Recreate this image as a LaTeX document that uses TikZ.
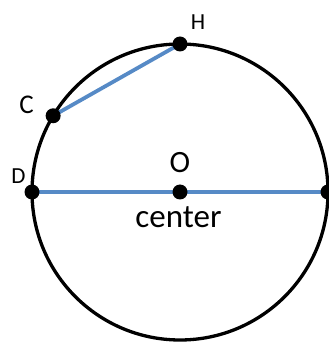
\documentclass[tikz,border=0pt]{standalone}
\usepackage{fontspec}
\setmainfont{Carlito}
\usetikzlibrary{calc,positioning}
\definecolor{chordblue}{RGB}{86,138,198}
\tikzset{
myCircle/.style={
	draw=black, line width=3.3pt
}
, myChord/.style={
	draw=chordblue, line width=3.8pt
}
, myDot/.style={
	circle, fill=black, draw=none,
	inner sep=0pt, minimum size=15pt
}
, myLabel/.style={
	inner sep=0pt, text=black
}
}
\begin{document}
\begin{tikzpicture}[x=1pt,y=1pt]
	\useasboundingbox (0,0) rectangle (329,343);
	% points
	\coordinate (pO) at (180,151);
	\coordinate (pH) at ($(pO)+(90:148)$);
	\coordinate (pC) at ($(pO)+(149:148)$);
	\coordinate (pD) at ($(pO)+(180:148)$);
	\coordinate (pE) at ($(pO)+(0:148)$);
	% circle
	\draw[myCircle] (pO) circle (148);
	% chords
	\draw[myChord] (pC) -- (pH);
	\draw[myChord] (pD) -- (pE);
	% dots
	\node[myDot] (H) at (pH) {};
	\node[myDot] (C) at (pC) {};
	\node[myDot] (D) at (pD) {};
	\node[myDot] (O) at (pO) {};
	\node[myDot] (E) at (pE) {};
	% labels
	\node[myLabel,font=\fontsize{23}{25}\selectfont] (labelH) at (198,321) {H};
	\node[myLabel,font=\fontsize{27}{29}\selectfont] (labelC) at (26.5,238) {C};
	\node[myLabel,font=\fontsize{23}{25}\selectfont] (labelD) at (18.5,167) {D};
	\node[myLabel,font=\fontsize{31}{33}\selectfont] (labelO) at (180,180) {O};
	\node[myLabel,font=\fontsize{33}{35}\selectfont,anchor=base] (labelCenter) at (178.5,115) {center};
\end{tikzpicture}
\end{document}
